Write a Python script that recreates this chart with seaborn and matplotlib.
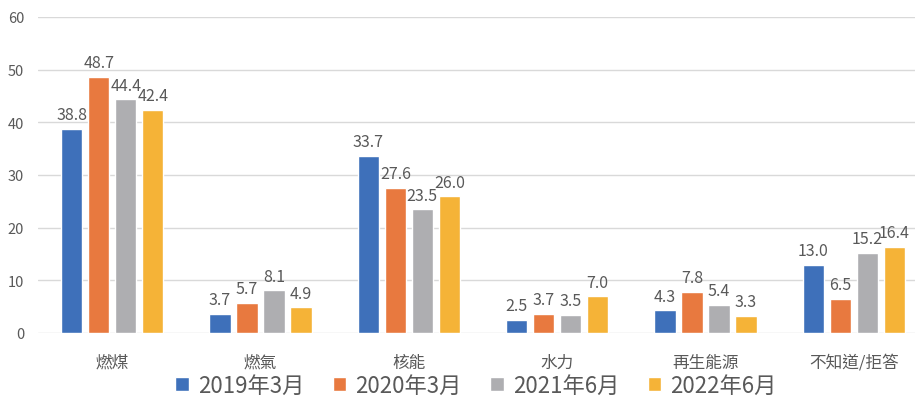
import pandas as pd
import matplotlib
matplotlib.use("Agg")
import matplotlib.pyplot as plt
import seaborn as sns

# === DATOS ===
categorias = ['燃煤', '燃氣', '核能', '水力', '再生能源', '不知道/拒答']
series = ['2019年3月', '2020年3月', '2021年6月', '2022年6月']
v2019 = [38.8, 3.7, 33.7, 2.5, 4.3, 13.0]
v2020 = [48.7, 5.7, 27.6, 3.7, 7.8, 6.5]
v2021 = [44.4, 8.1, 23.5, 3.5, 5.4, 15.2]
v2022 = [42.4, 4.9, 26.0, 7.0, 3.3, 16.4]
colores = ['#3E70BA', '#E8793F', '#AEAEB1', '#F5B337']

filas = []
for s, vals in zip(series, [v2019, v2020, v2021, v2022]):
    for c, v in zip(categorias, vals):
        filas.append({'cat': c, 'serie': s, 'valor': v})
df = pd.DataFrame(filas)

# === VISUALIZACIÓN ===
sns.set_style("white")
plt.rcParams['font.family'] = ['Noto Sans CJK TC', 'DejaVu Sans']
gris = '#595959'

fig = plt.figure(figsize=(9.15, 4.1), dpi=100)
# el área del gráfico sobrepasa el borde derecho (imagen recortada)
ax = fig.add_axes([38 / 915, 1 - 334 / 410, 890 / 915, 316 / 410])
sns.barplot(data=df, x='cat', y='valor', hue='serie', order=categorias,
            hue_order=series, palette=colores, width=0.728, gap=0.22,
            saturation=1, ax=ax, legend=True)

for cont in ax.containers:
    ax.bar_label(cont, fmt='%.1f', padding=4, fontsize=11.5, color=gris)

ax.set_ylim(0, 60)
ax.set_xlim(-0.5, 5.5)
ax.set_yticks(range(0, 61, 10))
ax.grid(axis='y', color='#D9D9D9', linewidth=1)
ax.set_axisbelow(True)
for sp in ax.spines.values():
    sp.set_visible(False)
ax.tick_params(axis='y', length=0, pad=10, labelsize=10.5, labelcolor=gris)
ax.tick_params(axis='x', length=0, pad=15, labelsize=12, labelcolor=gris)
ax.set_xlabel('')
ax.set_ylabel('')

ax.legend(title=None, loc='center', bbox_to_anchor=(438 / 890, -0.165), ncol=4,
          frameon=False, fontsize=16, handlelength=0.6, handleheight=0.6,
          handletextpad=0.4, columnspacing=1.3, labelcolor=gris)

plt.savefig('out.png', dpi=100)
